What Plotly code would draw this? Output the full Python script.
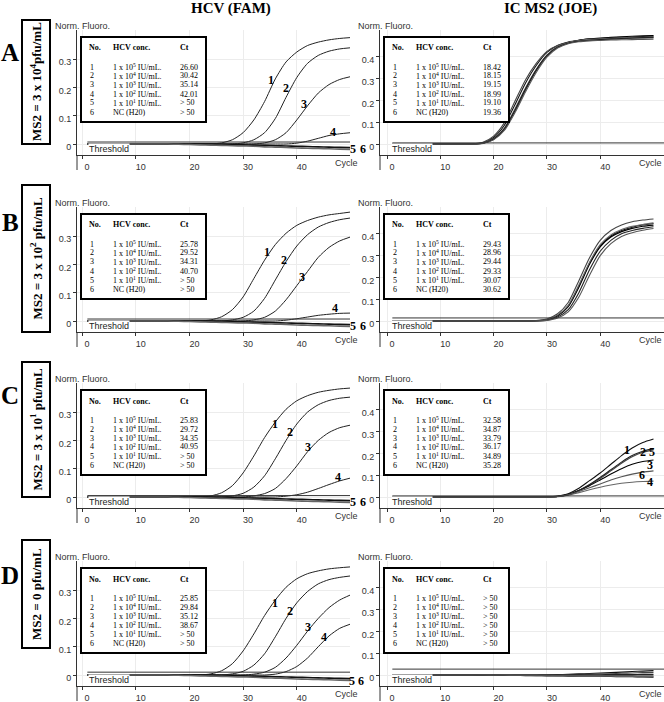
import plotly.graph_objects as go

W, H = 664, 702
SERIF = "Liberation Serif, Times New Roman, serif"
SANS = "Liberation Sans, Arial, sans-serif"

# ---- data ---------------------------------------------------------------
cycles = [1, 4, 8, 12, 16, 18, 20, 22, 24, 26, 28, 30, 32, 34, 36, 38, 40, 42, 44, 46, 48, 50]

# HCV (FAM) normalised fluorescence, curves 1..6
hcv_a = [
    [0, 0, 0, 0, 0, 0, 0, 0, 0.0, 0.004, 0.015, 0.04, 0.085, 0.15, 0.23, 0.29, 0.325, 0.348, 0.36, 0.368, 0.373, 0.376],
    [0, 0, 0, 0, 0, 0, 0, 0, 0, 0, 0, 0.004, 0.015, 0.04, 0.09, 0.165, 0.235, 0.285, 0.313, 0.328, 0.336, 0.34],
    [0, 0, 0, 0, 0, 0, 0, 0, 0, 0, 0, 0, 0, 0.004, 0.015, 0.04, 0.085, 0.135, 0.18, 0.21, 0.228, 0.238],
    [0, 0, 0, 0, 0, 0, 0, 0, 0, 0, 0, 0, 0, 0, 0, 0, 0.003, 0.01, 0.02, 0.03, 0.036, 0.04],
    [0, 0, 0, 0, 0, 0, 0, 0, 0, -0.001, -0.002, -0.003, -0.004, -0.005, -0.006, -0.007, -0.008, -0.009, -0.01, -0.011, -0.012, -0.013],
    [0, 0, 0, 0, 0, -0.001, -0.002, -0.003, -0.004, -0.005, -0.006, -0.007, -0.008, -0.01, -0.011, -0.012, -0.014, -0.015, -0.016, -0.017, -0.018, -0.019],
]
hcv_b = [
    [0, 0, 0, 0, 0, 0, 0, 0, 0.004, 0.015, 0.04, 0.085, 0.15, 0.215, 0.27, 0.31, 0.338, 0.355, 0.367, 0.375, 0.38, 0.385],
    [0, 0, 0, 0, 0, 0, 0, 0, 0, 0, 0.004, 0.013, 0.035, 0.08, 0.145, 0.21, 0.265, 0.305, 0.332, 0.348, 0.358, 0.364],
    [0, 0, 0, 0, 0, 0, 0, 0, 0, 0, 0, 0, 0.004, 0.013, 0.035, 0.075, 0.125, 0.175, 0.225, 0.26, 0.283, 0.297],
    [0, 0, 0, 0, 0, 0, 0, 0, 0, 0, 0, 0, 0, 0, 0, 0.003, 0.008, 0.014, 0.02, 0.024, 0.027, 0.028],
    [0, 0, 0, 0, 0, 0, 0, 0, 0, -0.001, -0.002, -0.003, -0.004, -0.005, -0.006, -0.007, -0.008, -0.009, -0.01, -0.011, -0.012, -0.013],
    [0, 0, 0, 0, 0, -0.001, -0.002, -0.003, -0.004, -0.005, -0.006, -0.007, -0.008, -0.01, -0.011, -0.012, -0.014, -0.015, -0.016, -0.017, -0.018, -0.019],
]
hcv_c = [
    [0, 0, 0, 0, 0, 0, 0, 0, 0.004, 0.015, 0.04, 0.085, 0.145, 0.21, 0.265, 0.31, 0.34, 0.358, 0.37, 0.377, 0.382, 0.385],
    [0, 0, 0, 0, 0, 0, 0, 0, 0, 0, 0.004, 0.013, 0.035, 0.075, 0.135, 0.2, 0.258, 0.3, 0.326, 0.341, 0.349, 0.353],
    [0, 0, 0, 0, 0, 0, 0, 0, 0, 0, 0, 0, 0.004, 0.012, 0.03, 0.065, 0.11, 0.16, 0.2, 0.228, 0.245, 0.254],
    [0, 0, 0, 0, 0, 0, 0, 0, 0, 0, 0, 0, 0, 0, 0, 0.003, 0.008, 0.017, 0.03, 0.044, 0.057, 0.067],
    [0, 0, 0, 0, 0, 0, 0, 0, 0, -0.001, -0.002, -0.003, -0.004, -0.005, -0.006, -0.007, -0.008, -0.009, -0.01, -0.011, -0.012, -0.013],
    [0, 0, 0, 0, 0, -0.001, -0.002, -0.003, -0.004, -0.005, -0.006, -0.007, -0.008, -0.01, -0.011, -0.012, -0.014, -0.015, -0.016, -0.017, -0.018, -0.019],
]
hcv_d = [
    [0, 0, 0, 0, 0, 0, 0, 0, 0.004, 0.015, 0.04, 0.085, 0.145, 0.21, 0.265, 0.31, 0.34, 0.358, 0.368, 0.375, 0.379, 0.382],
    [0, 0, 0, 0, 0, 0, 0, 0, 0, 0, 0.004, 0.013, 0.035, 0.075, 0.135, 0.2, 0.255, 0.295, 0.322, 0.337, 0.345, 0.35],
    [0, 0, 0, 0, 0, 0, 0, 0, 0, 0, 0, 0, 0.003, 0.01, 0.027, 0.06, 0.105, 0.155, 0.2, 0.238, 0.265, 0.283],
    [0, 0, 0, 0, 0, 0, 0, 0, 0, 0, 0, 0, 0, 0, 0.003, 0.012, 0.03, 0.06, 0.1, 0.138, 0.165, 0.18],
    [0, 0, 0, 0, 0, 0, 0, 0, 0, -0.001, -0.002, -0.003, -0.004, -0.005, -0.006, -0.007, -0.008, -0.009, -0.01, -0.011, -0.012, -0.013],
    [0, 0, 0, 0, 0, -0.001, -0.002, -0.003, -0.004, -0.005, -0.006, -0.007, -0.008, -0.01, -0.011, -0.012, -0.014, -0.015, -0.016, -0.017, -0.018, -0.019],
]

# IC MS2 (JOE) normalised fluorescence, curves 1..6
ms2_a = [
    [0, 0, 0, 0, 0, 0.006, 0.03, 0.085, 0.18, 0.28, 0.36, 0.42, 0.452, 0.468, 0.476, 0.481, 0.484, 0.487, 0.489, 0.491, 0.493, 0.495],
    [0, 0, 0, 0, 0.001, 0.008, 0.036, 0.097, 0.196, 0.295, 0.37, 0.425, 0.452, 0.465, 0.472, 0.476, 0.479, 0.481, 0.483, 0.485, 0.487, 0.488],
    [0, 0, 0, 0, 0, 0.004, 0.022, 0.068, 0.152, 0.25, 0.337, 0.405, 0.445, 0.465, 0.476, 0.482, 0.486, 0.489, 0.492, 0.494, 0.496, 0.498],
    [0, 0, 0, 0, 0, 0.005, 0.024, 0.072, 0.16, 0.258, 0.343, 0.408, 0.447, 0.466, 0.475, 0.48, 0.483, 0.485, 0.487, 0.489, 0.49, 0.492],
    [0, 0, 0, 0, 0, 0.004, 0.023, 0.07, 0.155, 0.253, 0.34, 0.406, 0.444, 0.462, 0.471, 0.476, 0.479, 0.482, 0.484, 0.486, 0.488, 0.49],
    [0, 0, 0, 0, 0, 0.003, 0.019, 0.062, 0.143, 0.24, 0.328, 0.398, 0.44, 0.46, 0.469, 0.473, 0.475, 0.477, 0.478, 0.479, 0.48, 0.481],
]
ms2_b = [
    [0, 0, 0, 0, 0, 0, 0, 0, 0, 0, 0.001, 0.006, 0.025, 0.068, 0.16, 0.265, 0.345, 0.39, 0.415, 0.43, 0.44, 0.447],
    [0, 0, 0, 0, 0, 0, 0, 0, 0, 0, 0.002, 0.009, 0.033, 0.085, 0.185, 0.29, 0.37, 0.415, 0.44, 0.455, 0.463, 0.468],
    [0, 0, 0, 0, 0, 0, 0, 0, 0, 0, 0.001, 0.006, 0.024, 0.066, 0.155, 0.26, 0.34, 0.385, 0.41, 0.425, 0.435, 0.44],
    [0, 0, 0, 0, 0, 0, 0, 0, 0, 0, 0.001, 0.007, 0.027, 0.072, 0.165, 0.27, 0.35, 0.395, 0.42, 0.434, 0.443, 0.45],
    [0, 0, 0, 0, 0, 0, 0, 0, 0, 0, 0, 0.004, 0.018, 0.052, 0.13, 0.235, 0.32, 0.37, 0.4, 0.415, 0.425, 0.432],
    [0, 0, 0, 0, 0, 0, 0, 0, 0, 0, 0, 0.003, 0.014, 0.042, 0.11, 0.21, 0.3, 0.355, 0.388, 0.405, 0.416, 0.424],
]
ms2_c = [
    [0, 0, 0, 0, 0, 0, 0, 0, 0, 0, 0, 0, 0.004, 0.015, 0.04, 0.075, 0.11, 0.15, 0.19, 0.225, 0.25, 0.266],
    [0, 0, 0, 0, 0, 0, 0, 0, 0, 0, 0, 0, 0.002, 0.01, 0.03, 0.055, 0.085, 0.12, 0.155, 0.185, 0.205, 0.216],
    [0, 0, 0, 0, 0, 0, 0, 0, 0, 0, 0, 0, 0.003, 0.012, 0.03, 0.052, 0.078, 0.105, 0.13, 0.15, 0.163, 0.17],
    [0, 0, 0, 0, 0, 0, 0, 0, 0, 0, 0, 0, 0.001, 0.008, 0.02, 0.033, 0.045, 0.055, 0.063, 0.068, 0.071, 0.073],
    [0, 0, 0, 0, 0, 0, 0, 0, 0, 0, 0, 0, 0.002, 0.01, 0.03, 0.057, 0.09, 0.125, 0.16, 0.19, 0.21, 0.222],
    [0, 0, 0, 0, 0, 0, 0, 0, 0, 0, 0, 0, 0.002, 0.01, 0.025, 0.042, 0.06, 0.078, 0.093, 0.105, 0.114, 0.12],
]
ms2_d = [
    [0, 0, 0, 0, 0, 0, 0, 0, 0, 0, 0, 0.001, 0.002, 0.003, 0.005, 0.007, 0.009, 0.011, 0.013, 0.016, 0.018, 0.02],
    [0, 0, 0, 0, 0, 0, 0, 0, 0, 0, 0, 0, 0.001, 0.002, 0.003, 0.004, 0.005, 0.006, 0.008, 0.009, 0.011, 0.012],
    [0, 0, 0, 0, 0, -0.001, -0.001, -0.002, -0.002, -0.003, -0.003, -0.004, -0.004, -0.005, -0.005, -0.006, -0.006, -0.007, -0.008, -0.008, -0.009, -0.01],
    [0, 0, 0, 0, 0, 0, -0.001, -0.001, -0.002, -0.002, -0.003, -0.003, -0.004, -0.004, -0.005, -0.005, -0.006, -0.006, -0.007, -0.007, -0.008, -0.008],
    [0, 0, 0, 0, 0, 0, 0, 0, 0, 0, 0, 0, 0, 0, 0.001, 0.001, 0.001, 0.002, 0.002, 0.002, 0.003, 0.003],
    [0, 0, 0, 0, 0, 0, 0, 0, -0.001, -0.001, -0.001, -0.001, -0.002, -0.002, -0.002, -0.002, -0.003, -0.003, -0.003, -0.003, -0.004, -0.004],
]

threshold_hcv = [0.007, 0.007, 0.005, 0.01]
threshold_ms2 = [0.005, 0.014, 0.005, 0.027]

conc_labels = ["1 x 10<sup>5</sup> IU/mL.", "1 x 10<sup>4</sup> IU/mL.", "1 x 10<sup>3</sup> IU/mL.",
               "1 x 10<sup>2</sup> IU/mL.", "1 x 10<sup>1</sup> IU/mL.", "NC (H20)"]
ct_hcv_a = ["26.60", "30.42", "35.14", "42.01", "> 50", "> 50"]
ct_hcv_b = ["25.78", "29.52", "34.31", "40.70", "> 50", "> 50"]
ct_hcv_c = ["25.83", "29.72", "34.35", "40.95", "> 50", "> 50"]
ct_hcv_d = ["25.85", "29.84", "35.12", "38.67", "> 50", "> 50"]
ct_ms2_a = ["18.42", "18.15", "19.15", "18.99", "19.10", "19.36"]
ct_ms2_b = ["29.43", "28.96", "29.44", "29.33", "30.07", "30.62"]
ct_ms2_c = ["32.58", "34.87", "33.79", "36.17", "34.89", "35.28"]
ct_ms2_d = ["> 50", "> 50", "> 50", "> 50", "> 50", "> 50"]

row_letters = ["A", "B", "C", "D"]
row_labels = ["MS2 = 3 x 10<sup>4</sup>pfu/mL", "MS2 = 3 x 10<sup>2</sup> pfu/mL",
              "MS2 = 3 x 10<sup>1</sup> pfu/mL", "MS2 = 0 pfu/mL"]
col_titles = ["HCV (FAM)", "IC MS2 (JOE)"]

hcv_sets = [hcv_a, hcv_b, hcv_c, hcv_d]
ms2_sets = [ms2_a, ms2_b, ms2_c, ms2_d]
hcv_cts = [ct_hcv_a, ct_hcv_b, ct_hcv_c, ct_hcv_d]
ms2_cts = [ct_ms2_a, ct_ms2_b, ct_ms2_c, ct_ms2_d]

# ---- layout (pixel positions on the 664x702 page) ------------------------
AXIS_Y = [155, 332, 508, 686]
LETTER_Y = [52, 222, 395, 575]
BOX_Y = [(20, 144), (185, 332), (362, 497), (540, 648)]
SIDES = [dict(left=77, right=350, x0=82, kx=5.37, ky=283, ticks=[0, 0.1, 0.2, 0.3]),
         dict(left=380, right=664, x0=387, kx=5.33, ky=218, ticks=[0, 0.1, 0.2, 0.3, 0.4])]

# curve number labels (pixel positions)
hcv_tags = [
    [("1", 271, 80), ("2", 286, 88), ("3", 304, 104), ("4", 333, 132), ("5", 353, 149), ("6", 363, 149)],
    [("1", 267, 252), ("2", 284, 260), ("3", 302, 277), ("4", 335, 308), ("5", 353, 326), ("6", 363, 326)],
    [("1", 275, 424), ("2", 290, 432), ("3", 308, 447), ("4", 338, 477), ("5", 353, 502), ("6", 363, 502)],
    [("1", 275, 603), ("2", 290, 611), ("3", 308, 627), ("4", 324, 637), ("5", 352, 681), ("6", 361, 681)],
]
ms2_tags = [[], [], [("1", 627, 450), ("2", 643, 452), ("5", 652, 452), ("3", 650, 465),
                    ("6", 642, 475), ("4", 650, 482)], []]

hcv_colors = ["#222", "#222", "#222", "#222", "#111", "#666"]
hcv_widths = [1, 1, 1, 1, 1.6, 1.6]
ms2_colors = ["#111", "#444", "#000", "#666", "#222", "#555"]


def px(x):
    return x / W


def py(y):
    return 1 - y / H


def txt(x, y, text, size, family, xanchor="center", color="black", **kw):
    return dict(x=px(x), y=py(y), xref="paper", yref="paper", text=text, showarrow=False,
                xanchor=xanchor, yanchor=kw.pop("yanchor", "middle"),
                font=dict(size=size, family=family, color=color), **kw)


fig = go.Figure()
annotations, shapes = [], []
axes = {}

for s, title in enumerate(col_titles):
    annotations.append(txt([231, 550][s], 8, f"<b>{title}</b>", 15, SERIF))

n = 0
for r in range(4):
    ay = AXIS_Y[r]
    zero = ay - 11
    top = ay - 125

    annotations.append(txt(10, LETTER_Y[r], f"<b>{row_letters[r]}</b>", 25, SERIF))
    b0, b1 = BOX_Y[r]
    shapes.append(dict(type="rect", xref="paper", yref="paper", x0=px(22), x1=px(50),
                       y0=py(b1), y1=py(b0), line=dict(color="black", width=2)))
    annotations.append(txt(36, (b0 + b1) / 2, f"<b>{row_labels[r]}</b>", 13, SERIF, textangle=-90))

    for s, side in enumerate(SIDES):
        n += 1
        xn = "x" if n == 1 else f"x{n}"
        yn = "y" if n == 1 else f"y{n}"
        curves = (hcv_sets if s == 0 else ms2_sets)[r]
        thr = (threshold_hcv if s == 0 else threshold_ms2)[r]

        for i, vals in enumerate(curves):
            color = hcv_colors[i] if s == 0 else ms2_colors[i]
            width = hcv_widths[i] if s == 0 else 1.1
            fig.add_trace(go.Scatter(x=cycles, y=vals, mode="lines", xaxis=xn, yaxis=yn,
                                     line=dict(color=color, width=width, shape="spline", smoothing=0.7),
                                     showlegend=False, hoverinfo="skip"))
        fig.add_trace(go.Scatter(x=[1, 52], y=[thr, thr], mode="lines", xaxis=xn, yaxis=yn,
                                 line=dict(color="#333", width=1), showlegend=False, hoverinfo="skip"))

        xr = [(side["left"] - side["x0"]) / side["kx"], (side["right"] - side["x0"]) / side["kx"]]
        yr = [-(ay - zero) / side["ky"], (zero - top) / side["ky"]]
        suffix = "" if n == 1 else str(n)
        axes["xaxis" + suffix] = dict(
            domain=[px(side["left"]), px(side["right"])], range=xr, anchor=yn,
            tickvals=[0, 10, 20, 30, 40], ticks="outside", ticklen=3, tickcolor="#333",
            ticklabelshift=5, showline=True, linecolor="#333", linewidth=1,
            showgrid=True, gridcolor="#ececec", zeroline=False,
            tickfont=dict(family=SANS, size=9, color="#333"))
        axes["yaxis" + suffix] = dict(
            domain=[py(ay), py(top)], range=yr, anchor=xn,
            tickvals=side["ticks"], ticktext=[f"{t:g}" for t in side["ticks"]],
            ticks="outside", ticklen=3, tickcolor="#333", ticklabelshift=3,
            showline=True, linecolor="#333", linewidth=1,
            showgrid=True, gridcolor="#ececec", zeroline=False,
            tickfont=dict(family=SANS, size=9, color="#333"))

        # y axis runs on below the cycle axis
        shapes.append(dict(type="line", xref="paper", yref="paper", x0=px(side["left"]), x1=px(side["left"]),
                           y0=py(ay), y1=py(ay + 15), line=dict(color="#333", width=1)))

        annotations.append(txt(side["left"] - 24, ay - 129, "Norm. Fluoro.", 9, SANS, xanchor="left", color="#333"))
        annotations.append(txt([346, 650][s], ay + 8, "Cycle", 9, SANS, color="#333"))
        annotations.append(txt(side["left"] + 11, zero - 1, "Threshold", 9, SANS, xanchor="left",
                               color="#222", yanchor="top", bgcolor="white", borderpad=0))

        # Ct table
        bl = side["left"] + 4
        bt = ay - 118
        shapes.append(dict(type="rect", xref="paper", yref="paper", x0=px(bl), x1=px(bl + 125),
                           y0=py(bt + 85), y1=py(bt), line=dict(color="black", width=2),
                           fillcolor="white", layer="above"))
        for head, dx in [("No.", 6), ("HCV conc.", 30), ("Ct", 97)]:
            annotations.append(txt(bl + dx, bt + 11, f"<b>{head}</b>", 8, SERIF, xanchor="left"))
        cts = (hcv_cts if s == 0 else ms2_cts)[r]
        for i in range(6):
            yy = bt + 30 + 9 * i
            annotations.append(txt(bl + 7, yy, str(i + 1), 8, SERIF, xanchor="left"))
            annotations.append(txt(bl + 30, yy, conc_labels[i], 8, SERIF, xanchor="left"))
            annotations.append(txt(bl + 97, yy, cts[i], 8, SERIF, xanchor="left"))

        for lab, tx, ty in (hcv_tags if s == 0 else ms2_tags)[r]:
            annotations.append(txt(tx, ty, f"<b>{lab}</b>", 12, SERIF))

fig.update_layout(**axes)
fig.update_layout(width=W, height=H, margin=dict(l=0, r=0, t=0, b=0),
                  paper_bgcolor="white", plot_bgcolor="white",
                  annotations=annotations, shapes=shapes, showlegend=False)

fig.write_html("out.html", config={"displayModeBar": False},
               post_script="document.body.style.margin='0';")
